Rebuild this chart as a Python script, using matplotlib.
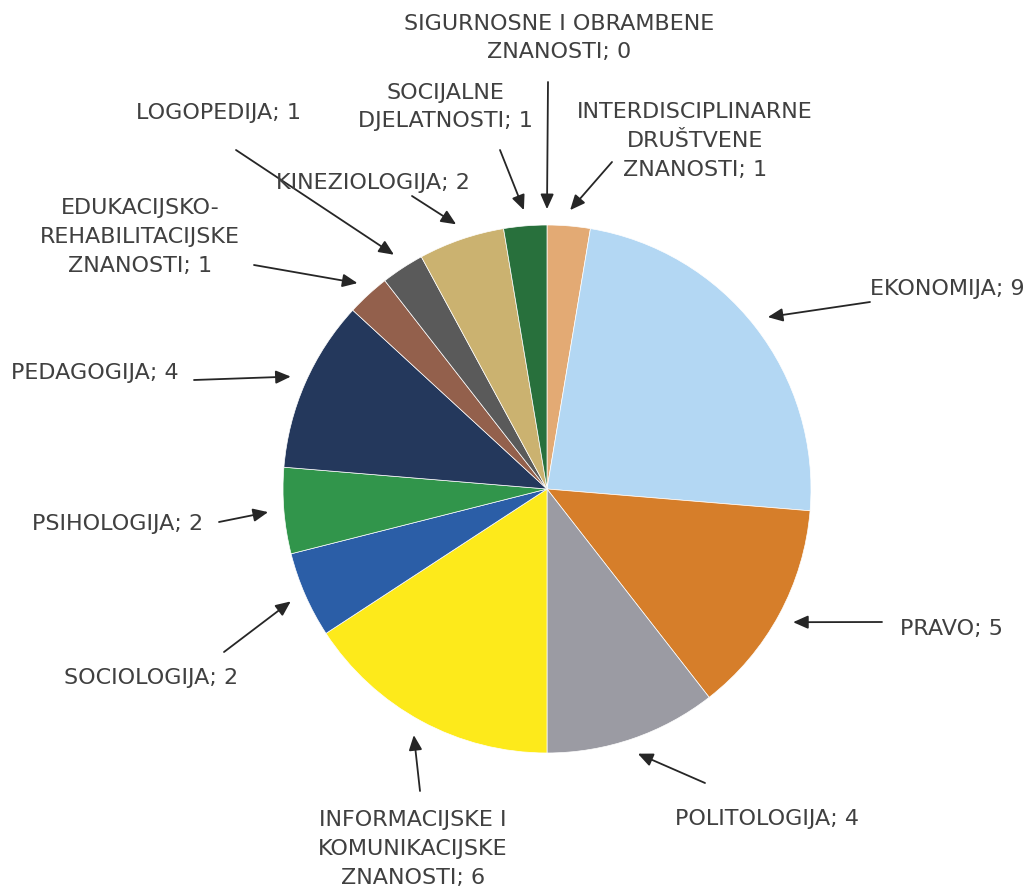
import numpy as np
import matplotlib.pyplot as plt

# podaci
podrucja = ["SIGURNOSNE I OBRAMBENE\nZNANOSTI", "INTERDISCIPLINARNE\nDRUŠTVENE\nZNANOSTI",
            "EKONOMIJA", "PRAVO", "POLITOLOGIJA",
            "INFORMACIJSKE I\nKOMUNIKACIJSKE\nZNANOSTI", "SOCIOLOGIJA", "PSIHOLOGIJA",
            "PEDAGOGIJA", "EDUKACIJSKO-\nREHABILITACIJSKE\nZNANOSTI", "LOGOPEDIJA",
            "KINEZIOLOGIJA", "SOCIJALNE\nDJELATNOSTI"]
broj = [0, 1, 9, 5, 4, 6, 2, 2, 4, 1, 1, 2, 1]
boje = ["#4f7b3a", "#e3aa74", "#b3d7f3", "#d67e2a", "#9b9ba3", "#fdea1b", "#2b5ea7",
        "#31954b", "#24385c", "#93604c", "#5a5a5a", "#cbb270", "#28703c"]

# polozaj natpisa (px od gornjeg lijevog kuta) i pocetak strelice
natpis_xy = [(559, 38), (695, 141), (947, 289), (952, 629), (767, 819), (413, 849),
             (151, 678), (118, 524), (95, 373), (140, 237), (219, 113), (373, 183),
             (445, 107)]
rep_xy = [(548, 82), (612, 162), (870, 302), (882, 622), (705, 783), (420, 791),
          (224, 652), (219, 522), (194, 380), (254, 265), (236, 150), (412, 196),
          (500, 150)]

W, H = 1029, 888
cx, cy, r = 547, H - 489, 264

fig = plt.figure(figsize=(W / 100, H / 100), dpi=100)
ax = fig.add_axes([0, 0, 1, 1])

wedges, _ = ax.pie(broj, colors=boje, startangle=90, counterclock=False,
                   center=(cx, cy), radius=r, frame=True,
                   wedgeprops=dict(linewidth=0.5, edgecolor="white"))
ax.set_xlim(0, W)
ax.set_ylim(0, H)
ax.set_aspect("equal")
ax.axis("off")

for w, ime, n, (tx, ty), (ax0, ay0) in zip(wedges, podrucja, broj, natpis_xy, rep_xy):
    kut = np.deg2rad((w.theta1 + w.theta2) / 2)
    vx = cx + 1.06 * r * np.cos(kut)
    vy = cy + 1.06 * r * np.sin(kut)
    ax.annotate("", xy=(vx, vy), xytext=(ax0, H - ay0),
                arrowprops=dict(arrowstyle="-|>,head_length=0.9,head_width=0.4",
                                color="#262626", lw=1.3, shrinkA=0, shrinkB=0))
    ax.text(tx, H - ty, f"{ime}; {n}", ha="center", va="center", fontsize=16,
            color="#404040", family="DejaVu Sans", linespacing=1.55)

fig.savefig("out.png", dpi=100)
